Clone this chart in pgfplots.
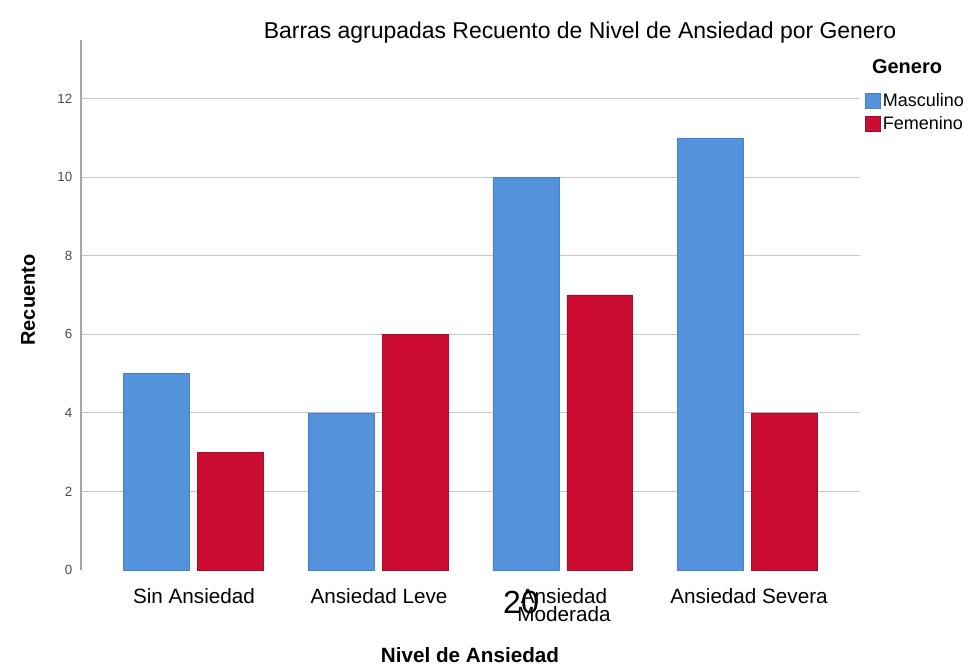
\documentclass[border=0pt]{standalone}
\usepackage{pgfplots}
\pgfplotsset{compat=1.18}
\usepackage{fontspec}
\setmainfont{Liberation Sans}
\definecolor{mblue}{RGB}{84,146,219}
\definecolor{mbluee}{RGB}{70,128,200}
\definecolor{fred}{RGB}{204,12,48}
\definecolor{frede}{RGB}{155,18,45}
\begin{document}
\begin{tikzpicture}
\useasboundingbox (-60.75pt,-74.25pt) rectangle (666.75pt,427.5pt);
\begin{axis}[
  at={(0,0)}, anchor=south west,
  scale only axis, width=584.25pt, height=397.5pt,
  xmin=-0.61, xmax=3.61, ymin=0, ymax=13.49,
  axis x line=none,
  axis y line*=left,
  y axis line style={draw=black!35, line width=0.8pt, -},
  ytick={2,4,6,8,10,12},
  extra y ticks={0},
  extra y tick style={grid=none},
  ymajorgrids, grid style={draw=black!22, line width=0.8pt},
  major tick length=0pt,
  yticklabel style={font=\fontsize{10}{12}\selectfont, text=black!70, xshift=-3pt},
  /pgf/number format/assume math mode=true,
  xtick={0,1,2,3},
  bar width=0.357,
  legend style={at={(1.006,0.905)}, anchor=north west, draw=none, fill=none,
    inner sep=0pt, font=\fontsize{13.5}{15}\selectfont, row sep=2pt,
    /tikz/every even column/.append style={column sep=2pt}},
  legend cell align=left,
  legend image code/.code={\fill[#1] (0pt,-5.5pt) rectangle (11pt,5.5pt);},
  clip=false,
]
\addplot[ybar, bar shift=-0.2, fill=mblue, draw=mbluee] coordinates {(0,5) (1,4) (2,10) (3,11)};
\addplot[ybar, bar shift=0.2, fill=fred, draw=frede] coordinates {(0,3) (1,6) (2,7) (3,4)};
\legend{Masculino, Femenino}
\end{axis}
% category labels
\begin{scope}[every node/.style={font=\fontsize{15.5}{17}\selectfont, anchor=north, align=center}]
\node at (84.75pt,-10pt) {Sin Ansiedad};
\node at (223.5pt,-10pt) {Ansiedad Leve};
\node at (362.25pt,-10pt) {Ansiedad\\[-3pt]Moderada};
\node at (501pt,-10pt) {Ansiedad Severa};
\end{scope}
\node[font=\fontsize{17.2}{19}\selectfont] at (374.25pt,403pt) {Barras agrupadas Recuento de Nivel de Ansiedad por Genero};
\node[font=\bfseries\fontsize{15}{17}\selectfont, rotate=90] at (-39.75pt,202.5pt) {Recuento};
\node[font=\bfseries\fontsize{15.5}{17}\selectfont] at (291.75pt,-63.5pt) {Nivel de Ansiedad};
\node[font=\bfseries\fontsize{15}{17}\selectfont] at (619.5pt,377.25pt) {Genero};
\node[font=\fontsize{24}{26}\selectfont] at (330pt,-24pt) {20};
\end{tikzpicture}
\end{document}
